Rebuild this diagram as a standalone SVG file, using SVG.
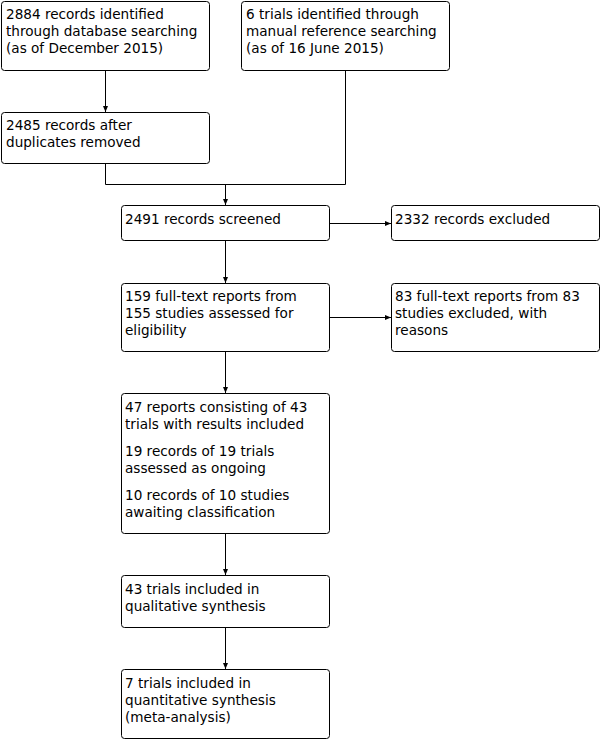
<svg xmlns="http://www.w3.org/2000/svg" width="602" height="740" viewBox="0 0 602 740">
<style>
.box{fill:#fff;stroke:#000;stroke-width:1}
text{font-family:"DejaVu Sans","Liberation Sans",sans-serif;font-size:13.6px;fill:#000}
.c{fill:none;stroke:#000;stroke-width:1}
</style>
<defs>
<marker id="ah" viewBox="0 0 6 6" refX="6" refY="3" markerWidth="6" markerHeight="6" markerUnits="userSpaceOnUse" orient="auto">
<path d="M0,0.5 L6,3 L0,5.5 Z" fill="#000"/>
</marker>
</defs>
<rect width="602" height="740" fill="#fff"/>
<g id="connectors">
<path class="c" d="M105.5,70 V112" marker-end="url(#ah)"/>
<path class="c" d="M105.5,164 V184.5 H345.5 V70"/>
<path class="c" d="M225.5,184.5 V205" marker-end="url(#ah)"/>
<path class="c" d="M329,223.5 H391" marker-end="url(#ah)"/>
<path class="c" d="M225.5,241 V283" marker-end="url(#ah)"/>
<path class="c" d="M329,317.5 H391" marker-end="url(#ah)"/>
<path class="c" d="M225.5,352 V393" marker-end="url(#ah)"/>
<path class="c" d="M225.5,534 V575" marker-end="url(#ah)"/>
<path class="c" d="M225.5,628 V669" marker-end="url(#ah)"/>
</g>
<g id="n1"><rect class="box" x="1.5" y="1.5" width="208" height="69" rx="3"/>
<text x="6" y="19">2884 records identified</text><text x="6" y="36">through database searching</text><text x="6" y="53">(as of December 2015)</text></g>
<g id="n2"><rect class="box" x="241.5" y="1.5" width="208" height="69" rx="3"/>
<text x="246" y="19">6 trials identified through</text><text x="246" y="36">manual reference searching</text><text x="246" y="53">(as of 16 June 2015)</text></g>
<g id="n3"><rect class="box" x="1.5" y="112.5" width="208" height="51" rx="3"/>
<text x="6" y="130">2485 records after</text><text x="6" y="147">duplicates removed</text></g>
<g id="n4"><rect class="box" x="121.5" y="205.5" width="208" height="35" rx="3"/>
<text x="125" y="224">2491 records screened</text></g>
<g id="n5"><rect class="box" x="391.5" y="205.5" width="208" height="35" rx="3"/>
<text x="395" y="224">2332 records excluded</text></g>
<g id="n6"><rect class="box" x="121.5" y="283.5" width="208" height="68" rx="3"/>
<text x="125" y="301">159 full-text reports from</text><text x="125" y="318">155 studies assessed for</text><text x="125" y="335">eligibility</text></g>
<g id="n7"><rect class="box" x="391.5" y="283.5" width="208" height="68" rx="3"/>
<text x="395" y="301">83 full-text reports from 83</text><text x="395" y="318">studies excluded, with</text><text x="395" y="335">reasons</text></g>
<g id="n8"><rect class="box" x="121.5" y="393.5" width="208" height="140" rx="3"/>
<text x="125" y="412">47 reports consisting of 43</text><text x="125" y="429">trials with results included</text>
<text x="125" y="456">19 records of 19 trials</text><text x="125" y="473">assessed as ongoing</text>
<text x="125" y="500">10 records of 10 studies</text><text x="125" y="517">awaiting classification</text></g>
<g id="n9"><rect class="box" x="121.5" y="575.5" width="208" height="52" rx="3"/>
<text x="125" y="594">43 trials included in</text><text x="125" y="611">qualitative synthesis</text></g>
<g id="n10"><rect class="box" x="121.5" y="669.5" width="208" height="69" rx="3"/>
<text x="125" y="688">7 trials included in</text><text x="125" y="705">quantitative synthesis</text><text x="125" y="722">(meta-analysis)</text></g>
</svg>
